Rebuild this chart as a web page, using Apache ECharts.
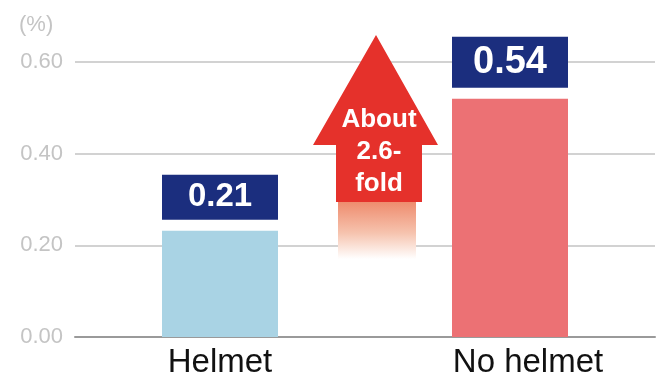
<!DOCTYPE html>
<html>
<head>
<meta charset="utf-8">
<script src="https://cdn.jsdelivr.net/npm/echarts@6/dist/echarts.min.js"></script>
<style>html,body{margin:0;padding:0;background:#fff;}#c{width:659px;height:379px;}</style>
</head>
<body>
<div id="c"></div>
<script>
const categories = ['Helmet', 'No helmet'];
const barValues = [0.232, 0.52];
const valueLabels = ['0.21', '0.54'];
const yTicks = [0, 0.2, 0.4, 0.6];
const arrowText = ['About', '2.6-', 'fold'];

const chart = echarts.init(document.getElementById('c'), null, {renderer: 'canvas'});

const barColors = ['#a9d3e4', '#ec7174'];
const labelBox = [{h: 45, fs: 33}, {h: 51, fs: 38}];

chart.setOption({
  animation: false,
  backgroundColor: '#fff',
  title: {
    text: '(%)', left: 14, top: 9,
    textStyle: {fontSize: 22, fontWeight: 'normal', color: '#c4c4c4', fontFamily: 'Liberation Sans'}
  },
  grid: {left: 75, right: 4, top: 62, bottom: 37, containLabel: false},
  xAxis: {
    type: 'category',
    data: categories,
    axisLine: {lineStyle: {color: '#9a9a9a', width: 2}},
    axisTick: {show: false},
    axisLabel: {
      fontSize: 33, color: '#111', fontFamily: 'Liberation Sans', margin: 9,
      formatter: function (v, i) { return i === 1 ? '{b|' + v + '}' : '{a|' + v + '}'; },
      rich: {
        a: {fontSize: 33, color: '#111', fontFamily: 'Liberation Sans'},
        b: {fontSize: 33, color: '#111', fontFamily: 'Liberation Sans', padding: [0, 0, 0, 36]}
      }
    }
  },
  yAxis: {
    type: 'value',
    min: yTicks[0], max: yTicks[yTicks.length - 1], interval: 0.2,
    axisLine: {show: false},
    axisTick: {show: false},
    splitLine: {lineStyle: {color: '#d2d2d2', width: 2}},
    axisLabel: {
      margin: 12, fontSize: 22, color: '#c4c4c4', fontFamily: 'Liberation Sans',
      formatter: function (v) { return v.toFixed(2); }
    }
  },
  series: [{
    type: 'bar',
    barWidth: 116,
    data: barValues.map(function (v, i) {
      return {
        value: v,
        itemStyle: {color: barColors[i]},
        label: {
          show: true, position: 'top', distance: 11,
          formatter: valueLabels[i],
          backgroundColor: '#1b2e7e',
          width: 116, height: labelBox[i].h, lineHeight: labelBox[i].h,
          align: 'center',
          color: '#fff', fontWeight: 'bold', fontSize: labelBox[i].fs,
          fontFamily: 'Liberation Sans'
        }
      };
    })
  }],
  graphic: [
    {
      type: 'rect', z: 10,
      shape: {x: 338, y: 201, width: 78, height: 58},
      style: {
        fill: new echarts.graphic.LinearGradient(0, 0, 0, 1, [
          {offset: 0, color: '#ee8a6c'},
          {offset: 0.55, color: '#f6c3ae'},
          {offset: 1, color: 'rgba(255,255,255,1)'}
        ])
      }
    },
    {
      type: 'polygon', z: 11,
      shape: {points: [[376, 35], [438, 145], [422, 145], [422, 202], [336, 202], [336, 145], [313, 145]]},
      style: {fill: '#e5312b'}
    },
    {
      type: 'text', z: 12,
      style: {
        x: 379, y: 104, text: arrowText.join('\n'), align: 'center', verticalAlign: 'top',
        fill: '#fff', font: 'bold 26px "Liberation Sans"', lineHeight: 32
      }
    }
  ]
});
</script>
</body>
</html>
